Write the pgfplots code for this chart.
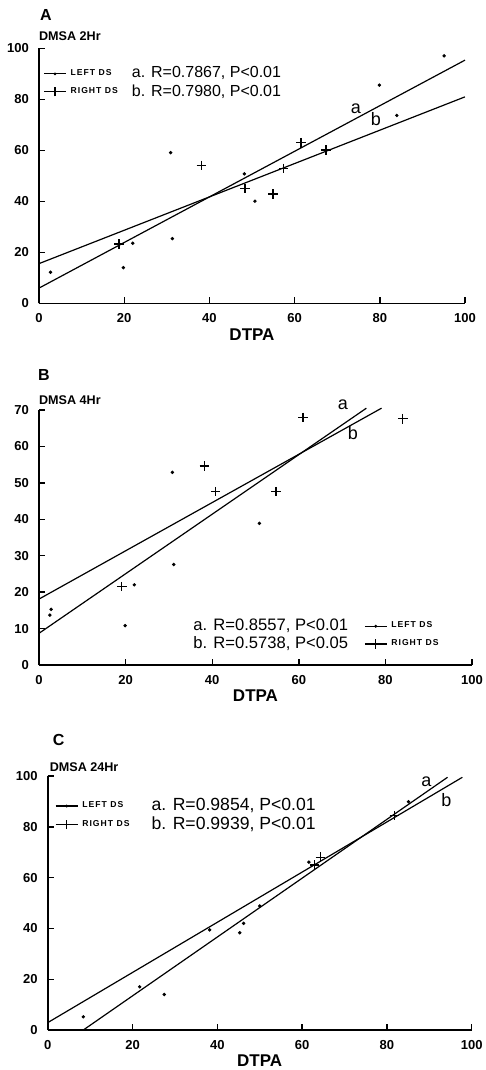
\documentclass[border=0pt]{standalone}
\usepackage{fontspec}
\setmainfont{Liberation Sans}
\newfontfamily\lgfont[LetterSpace=12]{Liberation Sans}
\usepackage{pgfplots}
\pgfplotsset{compat=1.18}
\newcommand{\ds}[1]{{\lgfont\bfseries\fontsize{4.3}{5}\selectfont #1}}

\tikzset{
  lab/.style={font=\fontsize{9}{9}\selectfont},
  panlet/.style={font=\bfseries\fontsize{8}{8}\selectfont, anchor=west},
}
\pgfplotsset{
  panel/.style={
    scale only axis,
    axis lines=left,
    axis line style={-, line width=0.9pt},
    tick align=inside,
    major tick length=3pt,
    tick style={line width=0.7pt, black},
    xmin=0, xmax=100, ymin=0,
    xtick={0,20,...,100},
    tick label style={font=\bfseries\fontsize{6.5}{7}\selectfont},
    /pgf/number format/assume math mode=true,
    xticklabel style={yshift=-1.5pt},
    yticklabel style={xshift=-1.5pt},
    xlabel={DTPA},
    xlabel style={font=\bfseries\fontsize{8.5}{9}\selectfont, at={(axis description cs:0.5,0)}, anchor=center, yshift=-15.5pt},
    ylabel style={rotate=-90, font=\bfseries\fontsize{6.3}{7}\selectfont, at={(axis description cs:0,1)}, anchor=west},
    clip=false,
    legend columns=2,
    legend cell align=left,
  },
  dots/.style={only marks, mark=*, mark size=0.65pt, black,
    legend image code/.code={\draw[line width=0.6pt] (0pt,0pt)--(11pt,0pt); \fill (5.5pt,0pt) circle (0.5pt);}},
  pluses/.style={only marks, mark=+, mark size=2.4pt, black, line width=0.7pt,
    legend image code/.code={\draw[line width=0.6pt] (0pt,0pt)--(11pt,0pt); \draw[line width=0.7pt] (5.5pt,-2.3pt)--(5.5pt,2.3pt);}},
  fit/.style={black, line width=0.6pt, no marks, forget plot},
}

\begin{document}
\begin{tikzpicture}
\path[use as bounding box] (0pt,0pt) rectangle (243pt,-535pt);

% ---- A: DMSA 2 h ----
\begin{axis}[panel, at={(19.5pt,-151.7pt)}, anchor=south west,
  width=213pt, height=127.5pt, ymax=100, ytick={0,20,...,100},
  ylabel={DMSA 2Hr}, ylabel style={xshift=-3.5pt, yshift=6pt},
  legend style={draw=none, fill=none, at={(rel axis cs:0,1)}, anchor=north west,
    xshift=2pt, yshift=-7pt, inner sep=0pt, row sep=-2.2pt,
    font=\fontsize{8}{9}\selectfont,
    /tikz/every even column/.append style={column sep=3pt}}]
\addplot[dots] coordinates {(2.7,12.2) (19.8,14.0) (22.0,23.6) (30.9,59.1) (31.3,25.4)
  (48.2,50.8) (50.7,40.1) (79.9,85.6) (84.0,73.7) (95.1,97.1)};
\addlegendentry{\ds{LEFT DS}}
\addlegendimage{empty legend}
\addlegendentry{a. R=0.7867, P<0.01}
\addplot[pluses] coordinates {(18.8,23.3) (38.1,54.1) (48.4,45.0) (54.9,42.9)
  (57.4,52.9) (61.5,63.0) (67.4,60.1)};
\addlegendentry{\ds{RIGHT DS}}
\addlegendimage{empty legend}
\addlegendentry{b. R=0.7980, P<0.01}
\addplot[fit] coordinates {(0,6.0) (100,95.4)};
\addplot[fit] coordinates {(0,15.6) (100,81.0)};
\node[lab] at (axis cs:74.4,76.5) {a};
\node[lab] at (axis cs:79.1,72.2) {b};
\node[panlet] at (rel axis cs:0,1) [xshift=-3pt, yshift=16.5pt] {A};
\end{axis}

% ---- B: DMSA 4 h ----
\begin{axis}[panel, at={(19.5pt,-332.5pt)}, anchor=south west,
  width=216.5pt, height=127.5pt, ymax=70, ytick={0,10,...,70},
  ylabel={DMSA 4Hr}, ylabel style={xshift=-3.5pt, yshift=5pt},
  legend style={draw=none, fill=none, at={(rel axis cs:0,0)}, anchor=south west,
    xshift=75pt, yshift=4.5pt, inner sep=0pt, row sep=-2.5pt,
    font=\fontsize{8.3}{9}\selectfont,
    /tikz/every even column/.append style={column sep=6pt}}]
\addlegendimage{empty legend}
\addlegendentry{a. R=0.8557, P<0.01}
\addplot[dots] coordinates {(2.5,13.7) (2.8,15.3) (19.9,10.8) (22.0,22.0)
  (30.8,52.9) (31.1,27.6) (50.9,38.9)};
\addlegendentry{\ds{LEFT DS}}
\addlegendimage{empty legend}
\addlegendentry{b. R=0.5738, P<0.05}
\addplot[pluses] coordinates {(19.1,21.5) (38.2,54.6) (40.8,47.6) (54.7,47.6)
  (61.0,68.0) (84.0,67.6)};
\addlegendentry{\ds{RIGHT DS}}
\addplot[fit] coordinates {(0,8.7) (75.6,70.5)};
\addplot[fit] coordinates {(0,18.1) (79.1,70.5)};
\node[lab] at (axis cs:70.2,71.4) {a};
\node[lab] at (axis cs:72.5,63.6) {b};
\node[panlet] at (rel axis cs:0,1) [xshift=-4pt, yshift=17.5pt] {B};
\end{axis}

% ---- C: DMSA 24 h ----
\begin{axis}[panel, at={(23.85pt,-515pt)}, anchor=south west,
  width=212pt, height=127pt, ymax=100, ytick={0,20,...,100},
  ylabel={DMSA 24Hr}, ylabel style={xshift=-2.5pt, yshift=4.5pt},
  legend style={draw=none, fill=none, at={(rel axis cs:0,1)}, anchor=north west,
    xshift=3.5pt, yshift=-9pt, inner sep=0pt, row sep=-2.5pt,
    font=\fontsize{8.8}{9.5}\selectfont,
    /tikz/every even column/.append style={column sep=7pt}}]
\addplot[dots] coordinates {(8.4,5.2) (21.7,17.0) (27.5,14.0) (38.2,39.4) (45.3,38.3)
  (46.2,42.0) (50.0,48.8) (61.6,66.1) (85.1,89.9)};
\addlegendentry{\ds{LEFT DS}}
\addlegendimage{empty legend}
\addlegendentry{a. R=0.9854, P<0.01}
\addplot[pluses] coordinates {(62.9,65.0) (64.3,68.0) (81.8,84.4)};
\addlegendentry{\ds{RIGHT DS}}
\addlegendimage{empty legend}
\addlegendentry{b. R=0.9939, P<0.01}
\addplot[fit] coordinates {(8.4,0) (94.3,99.5)};
\addplot[fit] coordinates {(0,2.9) (97.8,99.5)};
\node[lab] at (axis cs:89.3,97.6) {a};
\node[lab] at (axis cs:94.0,90.5) {b};
\node[panlet] at (rel axis cs:0,1) [xshift=-1pt, yshift=18pt] {C};
\end{axis}
\end{tikzpicture}
\end{document}
